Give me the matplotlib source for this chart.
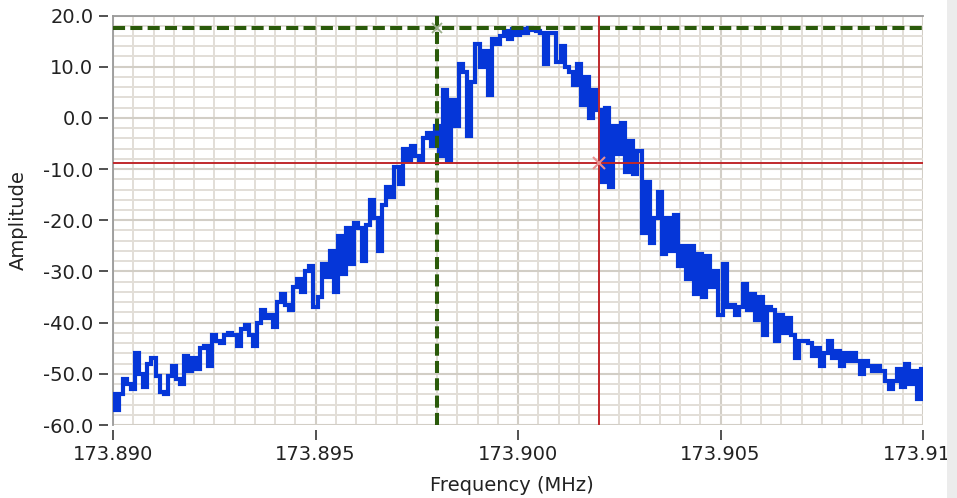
import matplotlib
matplotlib.use("Agg")
import matplotlib.pyplot as plt
import numpy as np
from matplotlib.patches import Rectangle
from matplotlib.ticker import FixedLocator, FormatStrFormatter, MultipleLocator

# spectrum trace, one value per 0.1 kHz bin
amplitude = [
    -54, -57, -54, -51, -52, -53, -46, -50, -52.5, -48,
    -47, -50.5, -53.5, -54, -50.5, -48.5, -51, -52, -46.5, -49.5,
    -47, -49, -45, -44.5, -48.5, -42.5, -43.5, -44, -42.5, -42,
    -42.5, -44.5, -41.3, -40.5, -42.5, -44.5, -40, -37.5, -39, -38.5,
    -40.8, -36, -34.5, -36.5, -37.5, -33, -31.5, -34, -30, -29,
    -37, -35, -28.5, -31, -26, -34, -23, -30.5, -21.5, -28.5,
    -20.5, -21.5, -28, -21, -16, -19.5, -26, -17, -13.5, -15.5,
    -9.5, -13, -6, -8.5, -5.5, -7.5, -8.5, -4, -3, -5.5,
    -1.5, -7.5, 5.5, -8.5, 3.5, -1.5, 10.5, 9, -3.5, 7,
    14.5, 10, 13, 4.5, 15.5, 14.5, 16, 17, 15.5, 17.3,
    16.2, 17.3, 16.5, 17.5, 17.2, 17, 16.5, 10.5, 16.5, 16.5,
    11, 14, 10, 9, 6.5, 10.5, 2.5, 8, 0, 5.5,
    1.5, -12.5, 2, -13.5, -1.5, -7, -1, -10.5, -4.5, -11,
    -6.5, -22.5, -12.5, -24.5, -19.5, -14.5, -26.5, -19.5, -26, -19,
    -29, -25, -31.5, -25, -34.5, -26.5, -35, -27, -33, -30,
    -38.5, -28.5, -37, -36.5, -38.5, -37, -32.5, -37.5, -34.5, -39.5,
    -35, -42.5, -37, -37.5, -43.5, -38.5, -42, -39, -42.5, -47,
    -43.5, -43.5, -44, -46.5, -45, -48.5, -46, -43.5, -47, -45.5,
    -48.5, -46, -47.5, -46, -47.5, -50, -47.5, -48.5, -49.5, -48.5,
    -49.5, -51.5, -53, -51.5, -49, -52.5, -48, -52, -49.5, -55,
    -49,
]
freq_start, freq_stop = 173.890, 173.910
x_ticks = [173.890, 173.895, 173.900, 173.905, 173.910]
y_ticks = [-60, -50, -40, -30, -20, -10, 0, 10, 20]

cursor1 = (173.898, 17.5)   # green dashed
cursor2 = (173.902, -8.8)   # red solid

freq = np.linspace(freq_start, freq_stop, len(amplitude))

fig = plt.figure(figsize=(9.57, 4.98), dpi=100)
ax = fig.add_axes([113 / 957, 1 - 425 / 498, 810 / 957, 409.5 / 498])

ax.set_xlim(freq_start, freq_stop)
ax.set_ylim(-60, 20)

ax.xaxis.set_major_locator(FixedLocator(x_ticks))
ax.xaxis.set_minor_locator(MultipleLocator(0.0005))
ax.yaxis.set_major_locator(FixedLocator(y_ticks))
ax.yaxis.set_minor_locator(MultipleLocator(2))
ax.grid(which="minor", color="#e2ded7", linewidth=1.4, zorder=0)
ax.grid(which="major", color="#d2cec6", linewidth=1.5, zorder=0)
ax.set_axisbelow(True)
ax.tick_params(which="both", length=0, labelbottom=False, labelleft=False)

for side in ["bottom", "right"]:
    ax.spines[side].set_visible(False)
for side in ["top", "left"]:
    ax.spines[side].set_color("#9a9a9a")
    ax.spines[side].set_linewidth(1.3)

ax.plot(freq, amplitude, drawstyle="steps-mid", color="#0536d8",
        linewidth=3.0, solid_joinstyle="miter", zorder=3)

# cursors
green = "#2a5a0a"
red = "#c0282c"
ax.axhline(cursor1[1], color=green, linewidth=2.9, linestyle=(0, (3.0, 1.3)), zorder=4)
ax.axvline(cursor1[0], color=green, linewidth=2.9, linestyle=(0, (3.0, 1.3)), zorder=4)
ax.axhline(cursor2[1], color=red, linewidth=1.4, zorder=4)
ax.axvline(cursor2[0], color=red, linewidth=1.4, zorder=4)
ax.plot(*cursor1, marker="x", color="#9aae8a", markersize=7, mew=1.3, zorder=5)
ax.plot(*cursor2, marker="x", color="#e89090", markersize=8, mew=1.5, zorder=5)

# tick marks sit a few pixels away from the plot frame
font = dict(fontsize=14, color="#222222")
sec_y = ax.secondary_yaxis(-5 / 810)
sec_y.yaxis.set_major_locator(FixedLocator(y_ticks))
sec_y.yaxis.set_major_formatter(FormatStrFormatter("%.1f"))
sec_y.spines["left"].set_visible(False)
sec_y.tick_params(length=6.5, width=1.2, color="#333333", pad=4, labelsize=14,
                  labelcolor="#222222")

sec_x = ax.secondary_xaxis(-5 / 410)
sec_x.xaxis.set_major_locator(FixedLocator(x_ticks))
sec_x.xaxis.set_major_formatter(FormatStrFormatter("%.3f"))
sec_x.spines["bottom"].set_visible(False)
sec_x.tick_params(length=7, width=1.2, color="#333333", pad=4, labelsize=14,
                  labelcolor="#222222")

fig.text(18 / 957, 1 - 220 / 498, "Amplitude", rotation=90, ha="center", va="center", **font)
fig.text(512 / 957, 1 - 485 / 498, "Frequency (MHz)", ha="center", va="center", **font)

# light panel edge at the right border (the last tick label runs under it, as in the original)
fig.add_artist(Rectangle((947 / 957, 0), 10 / 957, 1, transform=fig.transFigure,
                         facecolor="#ececec", edgecolor="none", zorder=10))

fig.savefig("out.png", dpi=100)
